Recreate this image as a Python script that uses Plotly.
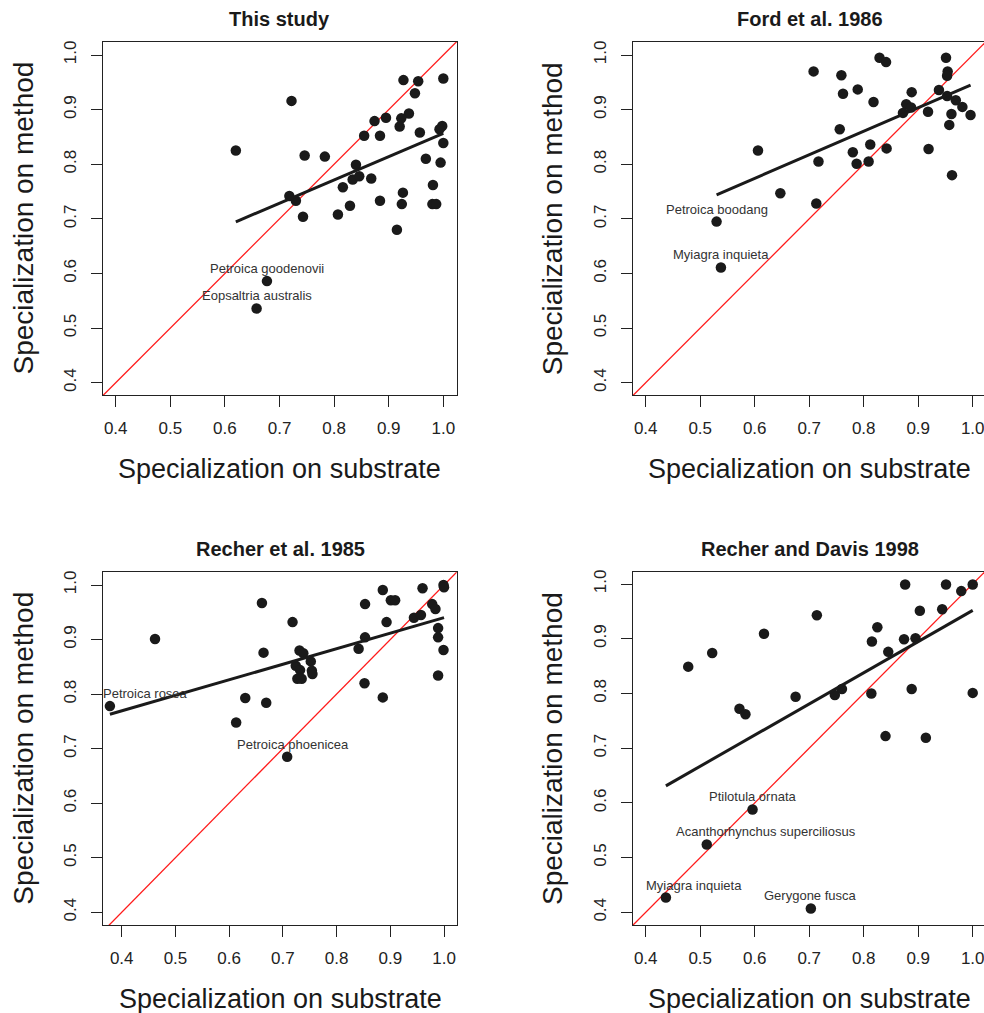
import plotly.graph_objects as go

# ---------------- data ----------------
titles = ["This study", "Ford et al. 1986", "Recher et al. 1985", "Recher and Davis 1998"]
x_label = "Specialization on substrate"
y_label = "Specialization on method"
tick_vals = [0.4, 0.5, 0.6, 0.7, 0.8, 0.9, 1.0]

p1_x = [0.927, 0.954, 1.000, 0.722, 0.948, 0.937, 0.895, 0.923, 0.874, 0.920, 0.998, 0.993, 0.957,
        0.855, 0.884, 1.000, 0.620, 0.746, 0.783, 0.968, 0.995, 0.840, 0.834, 0.846, 0.868, 0.816,
        0.981, 0.718, 0.730, 0.926, 0.884, 0.829, 0.924, 0.980, 0.987, 0.743, 0.807, 0.915, 0.677, 0.658]
p1_y = [0.954, 0.952, 0.957, 0.916, 0.930, 0.893, 0.885, 0.884, 0.879, 0.869, 0.870, 0.864, 0.858,
        0.852, 0.852, 0.839, 0.825, 0.816, 0.814, 0.810, 0.803, 0.799, 0.772, 0.778, 0.774, 0.758,
        0.762, 0.742, 0.733, 0.748, 0.733, 0.724, 0.727, 0.727, 0.727, 0.704, 0.708, 0.680, 0.586, 0.536]
p1_label_idx = [38, 39]
p1_label_names = ["Petroica goodenovii", "Eopsaltria australis"]
p1_fit = (0.4305, 0.426)   # intercept, slope

p2_x = [0.829, 0.841, 0.951, 0.708, 0.759, 0.954, 0.953, 0.762, 0.789, 0.888, 0.938, 0.953, 0.969,
        0.818, 0.878, 0.887, 0.981, 0.872, 0.918, 0.961, 0.996, 0.957, 0.756, 0.606, 0.780, 0.812,
        0.842, 0.919, 0.717, 0.787, 0.809, 0.962, 0.647, 0.713, 0.530, 0.538]
p2_y = [0.995, 0.987, 0.995, 0.970, 0.963, 0.970, 0.962, 0.929, 0.937, 0.932, 0.936, 0.925, 0.917,
        0.914, 0.910, 0.904, 0.905, 0.894, 0.896, 0.892, 0.890, 0.872, 0.864, 0.825, 0.822, 0.836,
        0.829, 0.828, 0.805, 0.801, 0.805, 0.780, 0.747, 0.728, 0.695, 0.611]
p2_label_idx = [34, 35]
p2_label_names = ["Petroica boodang", "Myiagra inquieta"]
p2_fit = (0.5156, 0.431)

p3_x = [0.999, 1.000, 0.886, 0.960, 0.661, 0.853, 0.901, 0.909, 0.978, 0.984, 0.944, 0.957, 0.718,
        0.893, 0.989, 0.989, 0.462, 0.853, 0.841, 0.999, 0.731, 0.738, 0.664, 0.752, 0.724, 0.732,
        0.754, 0.755, 0.727, 0.735, 0.989, 0.852, 0.378, 0.630, 0.886, 0.669, 0.613, 0.708]
p3_y = [1.000, 0.996, 0.991, 0.994, 0.967, 0.965, 0.972, 0.972, 0.965, 0.956, 0.940, 0.945, 0.932,
        0.932, 0.921, 0.904, 0.901, 0.904, 0.883, 0.881, 0.880, 0.875, 0.876, 0.860, 0.852, 0.844,
        0.843, 0.837, 0.828, 0.828, 0.834, 0.820, 0.778, 0.793, 0.794, 0.784, 0.748, 0.685]
p3_label_idx = [32, 37]
p3_label_names = ["Petroica rosea", "Petroica phoenicea"]
p3_fit = (0.6553, 0.2848)

p4_x = [0.876, 0.951, 1.000, 0.979, 0.714, 0.903, 0.944, 0.825, 0.617, 0.815, 0.874, 0.895, 0.522,
        0.845, 0.478, 0.675, 0.747, 0.760, 0.814, 0.888, 1.000, 0.572, 0.583, 0.840, 0.914, 0.596,
        0.512, 0.437, 0.703]
p4_y = [0.999, 0.999, 0.999, 0.987, 0.943, 0.951, 0.954, 0.921, 0.909, 0.895, 0.899, 0.901, 0.874,
        0.876, 0.849, 0.794, 0.797, 0.808, 0.800, 0.808, 0.801, 0.772, 0.762, 0.722, 0.719, 0.588,
        0.524, 0.427, 0.407]
p4_label_idx = [25, 26, 27, 28]
p4_label_names = ["Ptilotula ornata", "Acanthorhynchus superciliosus", "Myiagra inquieta", "Gerygone fusca"]
p4_fit = (0.3821, 0.5697)

# ---------------- layout / style ----------------
W, H = 984, 1013
FONT = "Liberation Sans, Arial, Helvetica, sans-serif"
INK = "#1a1a1a"
AXC = "#222222"

# pixel boxes of each panel: (left, right, top, bottom), axis ranges
panels = [
    dict(x=p1_x, y=p1_y, li=p1_label_idx, ln=p1_label_names, fit=p1_fit,
         box=(103, 456.7, 42, 395), xr=[0.3767, 1.0245], yr=[0.3775, 1.0238],
         shifts=[0, 0], ymirror=True),
    dict(x=p2_x, y=p2_y, li=p2_label_idx, ln=p2_label_names, fit=p2_fit,
         box=(632.7, 984, 42, 395), xr=[0.3761, 1.0207], yr=[0.3775, 1.0238],
         shifts=[0, 0], ymirror=False),
    dict(x=p3_x, y=p3_y, li=p3_label_idx, ln=p3_label_names, fit=p3_fit,
         box=(103.3, 456.7, 571.7, 925), xr=[0.3657, 1.0236], yr=[0.3767, 1.0244],
         shifts=[36, 6], ymirror=True),
    dict(x=p4_x, y=p4_y, li=p4_label_idx, ln=p4_label_names, fit=p4_fit,
         box=(632.7, 984, 571.7, 925), xr=[0.3761, 1.0207], yr=[0.3768, 1.0225],
         shifts=[0, 59, 28, 0], ymirror=False),
]

fig = go.Figure()
annotations = []
layout_axes = {}

for i, p in enumerate(panels):
    n = i + 1
    xa = "x" if n == 1 else f"x{n}"
    ya = "y" if n == 1 else f"y{n}"
    l, r, t, b = p["box"]
    # identity line
    lo = min(p["xr"][0], p["yr"][0]) - 0.1
    hi = max(p["xr"][1], p["yr"][1]) + 0.1
    fig.add_trace(go.Scatter(x=[lo, hi], y=[lo, hi], mode="lines", xaxis=xa, yaxis=ya,
                             line=dict(color="#ff1a1a", width=1.3), showlegend=False,
                             hoverinfo="skip"))
    # points
    fig.add_trace(go.Scatter(x=p["x"], y=p["y"], mode="markers", xaxis=xa, yaxis=ya,
                             marker=dict(color=INK, size=10.5, line=dict(width=0)),
                             showlegend=False))
    # regression line over the data x-range
    a, s = p["fit"]
    xmin, xmax = min(p["x"]), max(p["x"])
    fig.add_trace(go.Scatter(x=[xmin, xmax], y=[a + s * xmin, a + s * xmax], mode="lines",
                             xaxis=xa, yaxis=ya, line=dict(color=INK, width=3),
                             showlegend=False))
    # labels
    for k, (idx, name) in enumerate(zip(p["li"], p["ln"])):
        annotations.append(dict(x=p["x"][idx], y=p["y"][idx], xref=xa, yref=ya, text=name,
                                showarrow=False, xanchor="center", yanchor="bottom",
                                xshift=p["shifts"][k], yshift=3,
                                font=dict(family=FONT, size=13, color="#333333")))

    axis_common = dict(showgrid=False, zeroline=False, showline=True, linecolor=AXC,
                       linewidth=1.3, ticks="outside", ticklen=11, tickwidth=1.3,
                       tickcolor=AXC, tickvals=tick_vals, tickformat=".1f", automargin=False,
                       ticklabeloverflow="allow",
                       tickfont=dict(family=FONT, size=17, color="#222222"))
    layout_axes["xaxis" if n == 1 else f"xaxis{n}"] = dict(
        axis_common, domain=[l / W, r / W], range=p["xr"], anchor=ya, mirror=True,
        ticklabelstandoff=6)
    layout_axes["yaxis" if n == 1 else f"yaxis{n}"] = dict(
        axis_common, domain=[1 - b / H, 1 - t / H], range=p["yr"], anchor=xa,
        mirror=p["ymirror"], tickangle=-90, ticklabelstandoff=8)

    # centre of the full (possibly clipped) panel
    fw = 456.7 - 103
    cx = l + fw / 2
    cy = (t + b) / 2
    annotations.append(dict(x=cx / W, y=1 - (t - 23) / H, xref="paper", yref="paper",
                            text=f"<b>{titles[i]}</b>", showarrow=False, xanchor="center",
                            yanchor="middle", font=dict(family=FONT, size=20, color=INK)))
    annotations.append(dict(x=cx / W, y=1 - (b + 74) / H, xref="paper", yref="paper",
                            text=x_label, showarrow=False, xanchor="center", yanchor="middle",
                            font=dict(family=FONT, size=27, color=INK)))
    annotations.append(dict(x=(l - 80) / W, y=1 - cy / H, xref="paper", yref="paper",
                            text=y_label, showarrow=False, xanchor="center", yanchor="middle",
                            textangle=-90, font=dict(family=FONT, size=28, color=INK)))

fig.update_layout(width=W, height=H, margin=dict(l=0, r=0, t=0, b=0, autoexpand=False),
                  plot_bgcolor="white", paper_bgcolor="white", annotations=annotations,
                  **layout_axes)

fig.write_html("out.html", config={"displayModeBar": False},
               post_script="document.body.style.margin='0px';document.body.style.overflow='hidden';")
